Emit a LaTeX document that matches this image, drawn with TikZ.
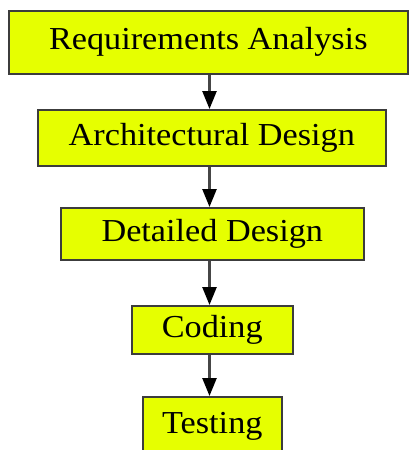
\documentclass[tikz,border=0pt]{standalone}
\usepackage{fontspec}
\setmainfont{Liberation Serif}
\newfontfamily\boxfont[FakeStretch=1.07]{Liberation Serif}
\usetikzlibrary{arrows.meta}
\definecolor{boxfill}{RGB}{230,255,0}
\definecolor{boxline}{RGB}{60,60,60}
\definecolor{flowline}{RGB}{70,70,70}
\tikzset{
  stage/.style={draw=boxline, line width=1.6pt, fill=boxfill, inner sep=0pt,
    font=\boxfont\fontsize{32}{36}\selectfont, anchor=north west},
  flow/.style={draw=flowline, line width=2.5pt,
    -{Triangle[length=18pt,width=14pt,color=black]}}
}
\begin{document}
\begin{tikzpicture}[x=1pt,y=-1pt]
  \useasboundingbox (0,0) rectangle (408,450);
  \node[stage, minimum width=399pt, minimum height=63pt] (req) at (8,10) {Requirements Analysis};
  \node[stage, minimum width=348pt, minimum height=56pt] (arch) at (37,109) {Architectural Design};
  \node[stage, minimum width=303pt, minimum height=52pt] (det) at (60,207) {Detailed Design};
  \node[stage, minimum width=161pt, minimum height=48pt] (cod) at (131,305) {Coding};
  \node[stage, minimum width=139pt, minimum height=60pt] (tst) at (142,396) {Testing};
  \coordinate (axis) at (209.5,0);
  \draw[flow] (req.south -| axis) -- (arch.north -| axis);
  \draw[flow] (arch.south -| axis) -- (det.north -| axis);
  \draw[flow] (det.south -| axis) -- (cod.north -| axis);
  \draw[flow] (cod.south -| axis) -- (tst.north -| axis);
\end{tikzpicture}
\end{document}
